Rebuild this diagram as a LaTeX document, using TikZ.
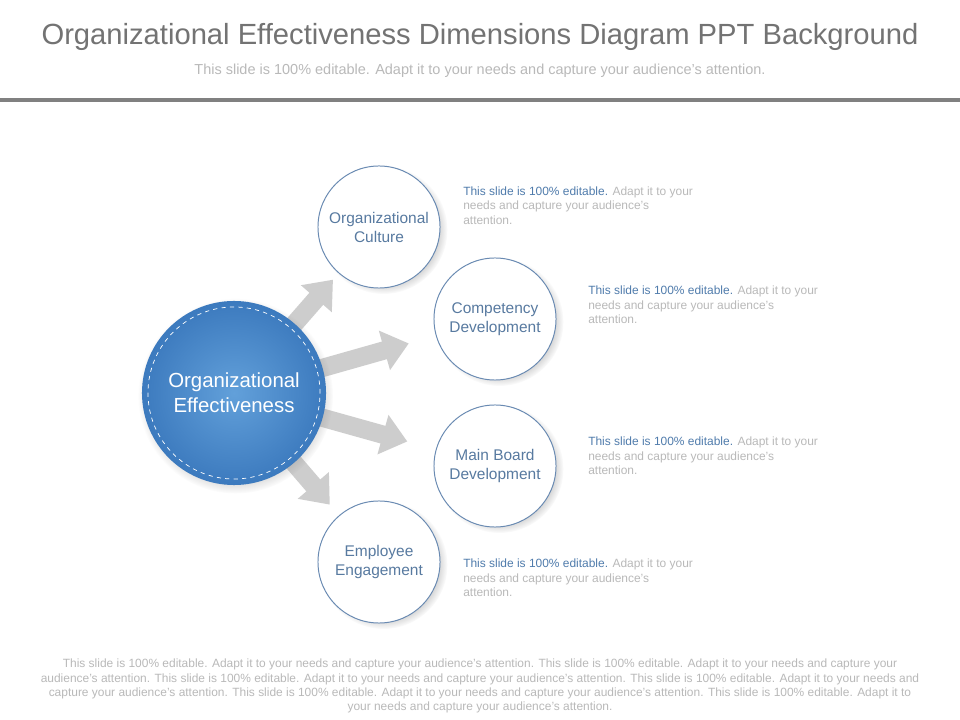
\documentclass[tikz,border=0pt]{standalone}
\usepackage{fontspec}
\setmainfont{Liberation Sans}
\usetikzlibrary{arrows.meta}
\usetikzlibrary{shadows}
\usetikzlibrary{backgrounds}

\definecolor{effblue}{RGB}{60,122,190}
\definecolor{efflight}{RGB}{98,160,218}
\definecolor{ringblue}{RGB}{105,138,178}
\definecolor{labelblue}{RGB}{88,122,160}
\definecolor{noteblue}{RGB}{80,124,172}
\definecolor{notegray}{RGB}{185,185,185}
\definecolor{titlegray}{RGB}{115,115,115}
\definecolor{rulegray}{RGB}{128,128,128}
\definecolor{arrowgray}{RGB}{205,205,205}

\begin{document}
\begin{tikzpicture}[x=0.025cm,y=-0.025cm,
  effnode/.style={circle, minimum size=4.6cm, inner sep=0pt, shading=radial, inner color=efflight, outer color=effblue, text=white, font=\fontsize{14.5}{17.5}\selectfont, align=center, circular drop shadow={shadow xshift=1pt, shadow yshift=-2pt, shadow scale=1.06, opacity=0.35}},
  dimnode/.style={circle, minimum size=3.05cm, inner sep=0pt, draw=ringblue, fill=white, line width=0.7pt, text=labelblue, font=\fontsize{11}{13.5}\selectfont, align=center, circular drop shadow={shadow xshift=3pt, shadow yshift=-2pt, shadow scale=1.05, opacity=0.35}},
  bigarrow/.style={arrowgray, line width=13pt, -{Triangle[width=28pt,length=18pt]}},
  note/.style={anchor=north west, align=left, text=notegray, font=\fontsize{8.5}{10}\selectfont, inner sep=0pt}]
\useasboundingbox (0,0) rectangle (960,720);

\node[text=titlegray, font=\fontsize{20.75}{24}\selectfont] (head) at (480,37) {Organizational Effectiveness Dimensions Diagram PPT Background};
\node[text=notegray, font=\fontsize{10.3}{12}\selectfont] (sub) at (480,71) {This slide is 100\% editable. Adapt it to your needs and capture your audience's attention.};
\draw[rulegray, line width=2.2pt] (0,100) -- (960,100);

\node[effnode] (eff) at (234,393) {Organizational\\Effectiveness};
\draw[white, dashed, line width=0.5pt] (eff.center) circle[radius=2.15cm];

\foreach \n/\x/\y/\t in {cult/379/227/Organizational\\Culture, comp/495/319/Competency\\Development, main/495/466/Main Board\\Development, emp/379/562/Employee\\Engagement}
	\node[dimnode] (\n) at (\x,\y) {\t};

\begin{scope}[on background layer]
\fill[white] (0,0) rectangle (960,720);
\foreach \n/\s in {cult/6pt,comp/20pt,main/21pt,emp/10pt}
	\draw[bigarrow, shorten <=-20pt, shorten >=\s] (eff) -- (\n);
\end{scope}

\foreach \x/\y [count=\i] in {463/187,588/286,588/437,463/559}
	\node[note] (txt\i) at (\x,\y) {\textcolor{noteblue}{This slide is 100\% editable.} Adapt it to your\\needs and capture your audience's\\attention.};

\node[align=center, text=notegray, font=\fontsize{8.5}{10}\selectfont] (foot) at (480,686) {This slide is 100\% editable. Adapt it to your needs and capture your audience's attention. This slide is 100\% editable. Adapt it to your needs and capture your\\audience's attention. This slide is 100\% editable. Adapt it to your needs and capture your audience's attention. This slide is 100\% editable. Adapt it to your needs and\\capture your audience's attention. This slide is 100\% editable. Adapt it to your needs and capture your audience's attention. This slide is 100\% editable. Adapt it to\\your needs and capture your audience's attention.};

\end{tikzpicture}
\end{document}
